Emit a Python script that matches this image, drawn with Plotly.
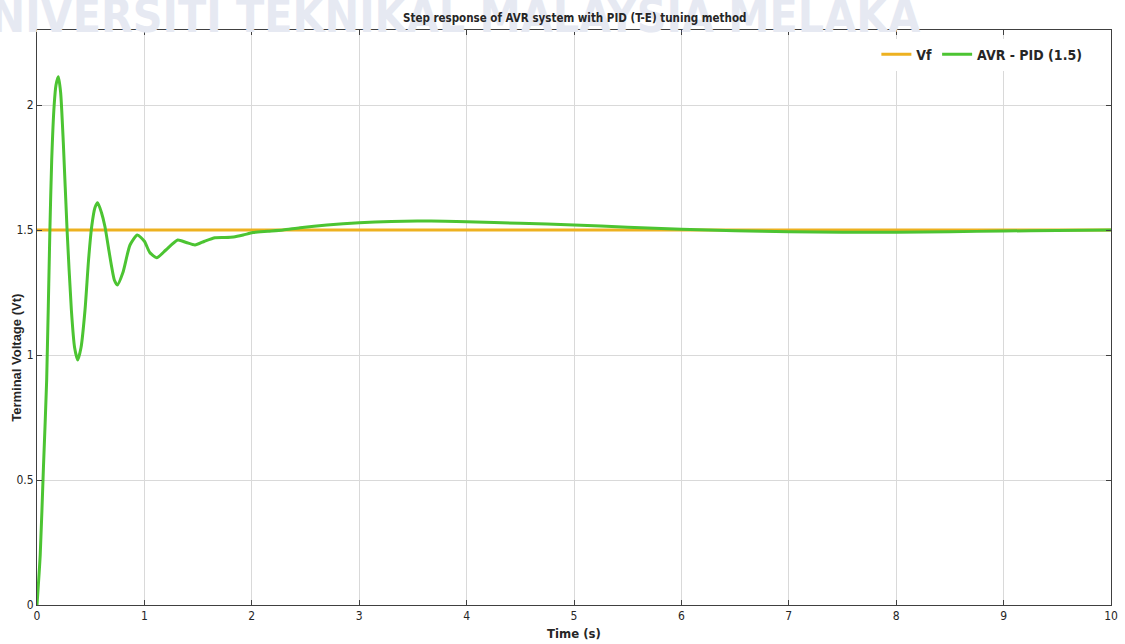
import plotly.graph_objects as go

# ---- data ----
time_s = [0, 0.03, 0.06, 0.09, 0.12, 0.137, 0.16, 0.177, 0.199, 0.22, 0.245, 0.28,
          0.32, 0.35, 0.379, 0.41, 0.447, 0.48, 0.509, 0.54, 0.565, 0.6, 0.633, 0.665,
          0.695, 0.72, 0.748, 0.8, 0.866, 0.934, 1.0, 1.05, 1.114, 1.2, 1.31, 1.39,
          1.471, 1.56, 1.657, 1.75, 1.83, 1.92, 2.01, 2.15, 2.29, 2.45, 2.7, 3.0, 3.3,
          3.54, 3.8, 4.0, 4.5, 5.0, 5.5, 6.0, 6.5, 7.0, 7.5, 8.0, 8.5, 9.0, 9.5, 10.0]
vt_pid = [0, 0.2, 0.55, 0.9, 1.5, 1.78, 2.0, 2.08, 2.113, 2.05, 1.85, 1.5,
          1.18, 1.03, 0.98, 1.03, 1.18, 1.38, 1.513, 1.59, 1.609, 1.57, 1.513, 1.43,
          1.353, 1.3, 1.28, 1.33, 1.44, 1.48, 1.455, 1.41, 1.389, 1.42, 1.46, 1.45,
          1.44, 1.455, 1.469, 1.47, 1.472, 1.48, 1.49, 1.495, 1.50, 1.509, 1.52, 1.529, 1.534,
          1.536, 1.535, 1.533, 1.527, 1.52, 1.511, 1.503, 1.497, 1.493, 1.491, 1.491, 1.493, 1.496, 1.498, 1.5]
vf_time = [0, 10]
vf_value = [1.5, 1.5]

x_ticks = list(range(0, 11))
y_ticks = [0, 0.5, 1, 1.5, 2]
y_tick_labels = ["0", "0.5", "1", "1.5", "2"]

NARROW = "DejaVu Sans Condensed, Liberation Sans Narrow, Arial Narrow, Liberation Sans, sans-serif"

fig = go.Figure()
fig.add_trace(go.Scatter(x=vf_time, y=vf_value, mode="lines", name="<b>Vf</b>",
                         line=dict(color="#EDB120", width=3)))
fig.add_trace(go.Scatter(x=time_s, y=vt_pid, mode="lines", name="<b>AVR - PID (1.5)</b>",
                         line=dict(color="#4CC432", width=3, shape="spline", smoothing=0.6)))

axis_common = dict(showgrid=True, gridcolor="#d9d9d9", gridwidth=1,
                   showline=True, linecolor="#404040", linewidth=1, mirror="allticks",
                   ticks="inside", ticklen=5, tickcolor="#404040",
                   zeroline=False, automargin=False,
                   tickprefix="<b>", ticksuffix="</b>",
                   tickfont=dict(family=NARROW, size=12, color="#262626"))

fig.update_xaxes(range=[0, 10], tickvals=x_ticks, **axis_common)
fig.update_yaxes(range=[0, 2.3], tickvals=y_ticks, ticktext=y_tick_labels, **axis_common)

fig.update_layout(
    width=1125, height=644,
    margin=dict(l=37, r=14, t=30, b=39),
    paper_bgcolor="white", plot_bgcolor="white",
    showlegend=True,
    legend=dict(orientation="h", x=0.978, y=0.985, xanchor="right", yanchor="top",
                bgcolor="white", borderwidth=0,
                font=dict(family=NARROW, size=14, color="#262626"),
                itemwidth=30),
    annotations=[
        dict(text="<b>UNIVERSITI TEKNIKAL MALAYSIA MELAKA</b>", xref="paper", yref="paper",
             x=-0.0764, y=1.0, xanchor="left", yanchor="bottom", yshift=-15, showarrow=False,
             font=dict(family=NARROW, size=46, color="#e6e9f2")),
        dict(text="<b>Step response of AVR system with PID (T-E) tuning method</b>",
             xref="paper", yref="paper", x=0.5, y=1.0, xanchor="center", yanchor="bottom",
             yshift=3, showarrow=False,
             font=dict(family=NARROW, size=11.5, color="#262626")),
        dict(text="<b>Terminal Voltage (Vt)</b>", xref="paper", yref="paper",
             x=-0.0186, y=0.43, xanchor="center", yanchor="middle", textangle=-90,
             showarrow=False,
             font=dict(family="Liberation Sans, Arial, sans-serif", size=13, color="#262626")),
        dict(text="<b>Time (s)</b>", xref="paper", yref="paper",
             x=0.5, y=-0.0487, xanchor="center", yanchor="middle", showarrow=False,
             font=dict(family=NARROW, size=13, color="#262626")),
    ],
)

fig.write_html("out.html", config={"displayModeBar": False},
               post_script="document.body.style.margin='0';document.body.style.overflow='hidden';")
